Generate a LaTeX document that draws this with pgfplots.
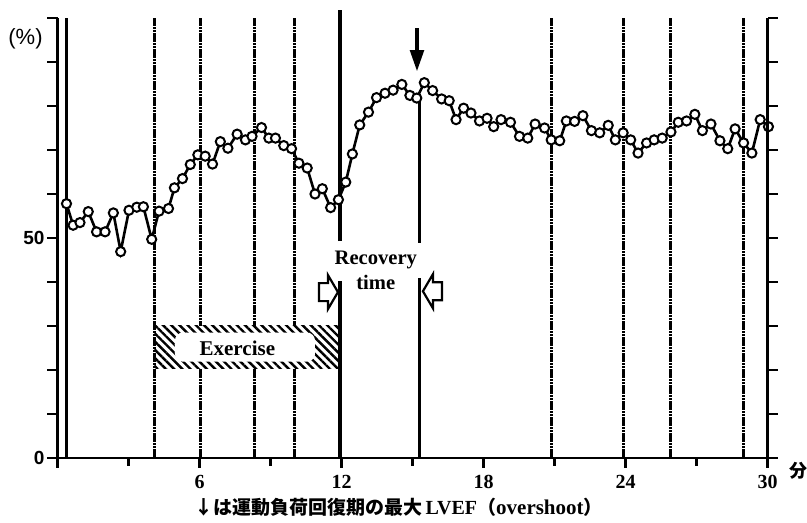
\documentclass[border=0pt]{standalone}
\usepackage{fontspec}
\setmainfont{Liberation Serif}
\setsansfont{Liberation Sans}
\newfontfamily\cjk{Noto Sans CJK JP}
\usepackage{pgfplots}
\pgfplotsset{compat=1.18}
\usetikzlibrary{patterns.meta,arrows.meta}
\pgfplotstableread{
t v
0.38 57.8
0.66 52.9
0.95 53.5
1.30 56.0
1.65 51.4
2.01 51.4
2.36 55.7
2.67 46.9
3.02 56.3
3.35 57.0
3.63 57.1
3.98 49.7
4.29 56.1
4.69 56.7
4.94 61.4
5.28 63.5
5.61 66.7
5.93 68.9
6.24 68.6
6.55 66.8
6.88 71.9
7.20 70.4
7.59 73.6
7.94 72.3
8.22 73.1
8.62 75.1
8.93 72.7
9.21 72.7
9.56 71.0
9.89 70.3
10.20 67.0
10.55 65.9
10.88 60.0
11.19 61.2
11.54 56.9
11.87 58.7
12.18 62.7
12.46 69.1
12.77 75.7
13.14 78.6
13.48 81.9
13.84 82.9
14.18 83.6
14.55 84.9
14.89 82.4
15.18 81.8
15.50 85.3
15.85 83.5
16.23 81.6
16.55 81.2
16.84 76.9
17.16 79.5
17.47 78.4
17.83 76.6
18.15 77.2
18.43 75.3
18.74 76.9
19.14 76.3
19.52 73.1
19.87 72.7
20.18 75.9
20.58 75.0
20.86 72.3
21.22 72.1
21.50 76.6
21.85 76.5
22.20 77.8
22.56 74.4
22.91 73.9
23.27 75.6
23.57 72.3
23.90 73.9
24.22 72.3
24.53 69.3
24.89 71.6
25.21 72.3
25.55 72.7
25.92 74.1
26.23 76.3
26.58 76.6
26.93 78.1
27.25 74.4
27.61 75.9
27.99 72.1
28.32 70.3
28.63 74.8
28.99 71.6
29.34 69.3
29.69 76.9
30.04 75.3
}\lvef
\begin{document}
\begin{tikzpicture}
\path[use as bounding box] (-28.75pt,-32.5pt) rectangle (374.75pt,229pt);
\begin{axis}[
  at={(0,0)}, anchor=south west,
  scale only axis, width=355pt, height=220pt,
  xmin=0, xmax=30, ymin=0, ymax=100,
  axis x line*=bottom, axis y line*=left,
  axis line style={line width=1.3pt},
  xtick={0,6,...,30}, minor xtick={3,9,...,27},
  xticklabels={,6,12,18,24,30},
  ytick={0,10,...,100}, yticklabels={0,,,,,50,,,,,},
  tick align=outside, major tick length=5pt, minor tick length=4pt,
  every tick/.style={line width=1.3pt, black},
  minor tick style={line width=1.3pt, black},
  xticklabel style={font=\bfseries\fontsize{10}{10}\selectfont},
  yticklabel style={font=\sffamily\bfseries\fontsize{9.5}{10}\selectfont, xshift=2pt},
  /pgf/number format/assume math mode=true,
  clip=false,
  vl/.style={black, line width=1.5pt, dash pattern=on 1.3pt off 0.3pt},
  sl/.style={black, line width=1.6pt},
]
% vertical reference lines hidden by the exercise box
\addplot[vl] coordinates {(6.06,0) (6.06,100)};
\addplot[vl] coordinates {(8.34,0) (8.34,100)};
\addplot[vl] coordinates {(10.0,0) (10.0,100)};
% exercise box
\addplot[draw=none, fill=white, postaction={pattern={Lines[angle=-45,distance=2.9pt,line width=1.2pt]}}]
  coordinates {(4.09,20.4) (11.94,20.4) (11.94,30.1) (4.09,30.1)} -- cycle;
\addplot[draw=none, fill=white, rounded corners=4pt]
  coordinates {(4.96,21.9) (10.88,21.9) (10.88,28.5) (4.96,28.5)} -- cycle;
\node[font=\bfseries\fontsize{10.5}{11}\selectfont] at (axis cs:7.6,24.9) {Exercise};
% other vertical lines
\addplot[sl] coordinates {(0.39,0) (0.39,100)};
\addplot[vl] coordinates {(4.09,0) (4.09,100)};
\addplot[vl] coordinates {(20.89,0) (20.89,100)};
\addplot[vl] coordinates {(23.93,0) (23.93,100)};
\addplot[vl] coordinates {(25.92,0) (25.92,100)};
\addplot[vl] coordinates {(29.0,0) (29.0,100)};
% recovery lines
\addplot[sl] coordinates {(11.94,49.3) (11.94,101.8)};
\addplot[sl] coordinates {(11.94,0) (11.94,40.3)};
\addplot[sl] coordinates {(15.31,48.9) (15.31,81.7)};
\addplot[sl] coordinates {(15.31,0) (15.31,41.0)};
\node[font=\bfseries\fontsize{10.3}{11}\selectfont] at (axis cs:13.45,44.9) {Recovery};
\node[font=\bfseries\fontsize{10.3}{11}\selectfont] at (axis cs:13.45,39.8) {time};
% open block arrows
\draw[line width=1.1pt, fill=white] (axis cs:11.85,37.7) -- ++(-5pt,8.5pt) -- ++(0,-4pt) -- ++(-4.5pt,0) -- ++(0,-9pt) -- ++(4.5pt,0) -- ++(0,-4pt) -- cycle;
\draw[line width=1.1pt, fill=white] (axis cs:15.44,37.9) -- ++(5pt,8.5pt) -- ++(0,-4pt) -- ++(4.5pt,0) -- ++(0,-9pt) -- ++(-4.5pt,0) -- ++(0,-4pt) -- cycle;
% overshoot arrow
\draw[line width=2.4pt, -{Triangle[length=11pt,width=6.5pt]}] (axis cs:15.19,97.7) -- (axis cs:15.19,87.7);
% data
\addplot[black, line width=1.3pt, mark=*, mark size=2.3pt, mark options={fill=white, draw=black, line width=1pt}] table[x=t,y=v] {\lvef};
\end{axis}
\begin{axis}[
  at={(0,0)}, anchor=south west,
  scale only axis, width=355pt, height=220pt,
  xmin=0, xmax=30, ymin=0, ymax=100,
  axis x line=none, axis y line*=right,
  axis line style={line width=1.3pt},
  ytick={0,10,...,100}, yticklabels={},
  tick align=outside, major tick length=5pt,
  every tick/.style={line width=1.3pt, black},
]
\addplot[draw=none] coordinates {(0,0) (30,100)};
\end{axis}
\node[font=\sffamily\fontsize{11}{12}\selectfont] at (-16pt,209.5pt) {(\%)};
\node[font=\cjk\bfseries\fontsize{9}{10}\selectfont] at (370.25pt,-6.5pt) {分};
\node[inner sep=0pt] at (170.5pt,-24.5pt) {{\cjk\bfseries\fontsize{9.5}{10}\selectfont ↓は運動負荷回復期の最大}\,{\bfseries\fontsize{10}{10}\selectfont LVEF}{\cjk\bfseries\fontsize{9.5}{10}\selectfont （}{\bfseries\fontsize{10.5}{10}\selectfont overshoot}{\cjk\bfseries\fontsize{9.5}{10}\selectfont ）}};
\end{tikzpicture}
\end{document}
